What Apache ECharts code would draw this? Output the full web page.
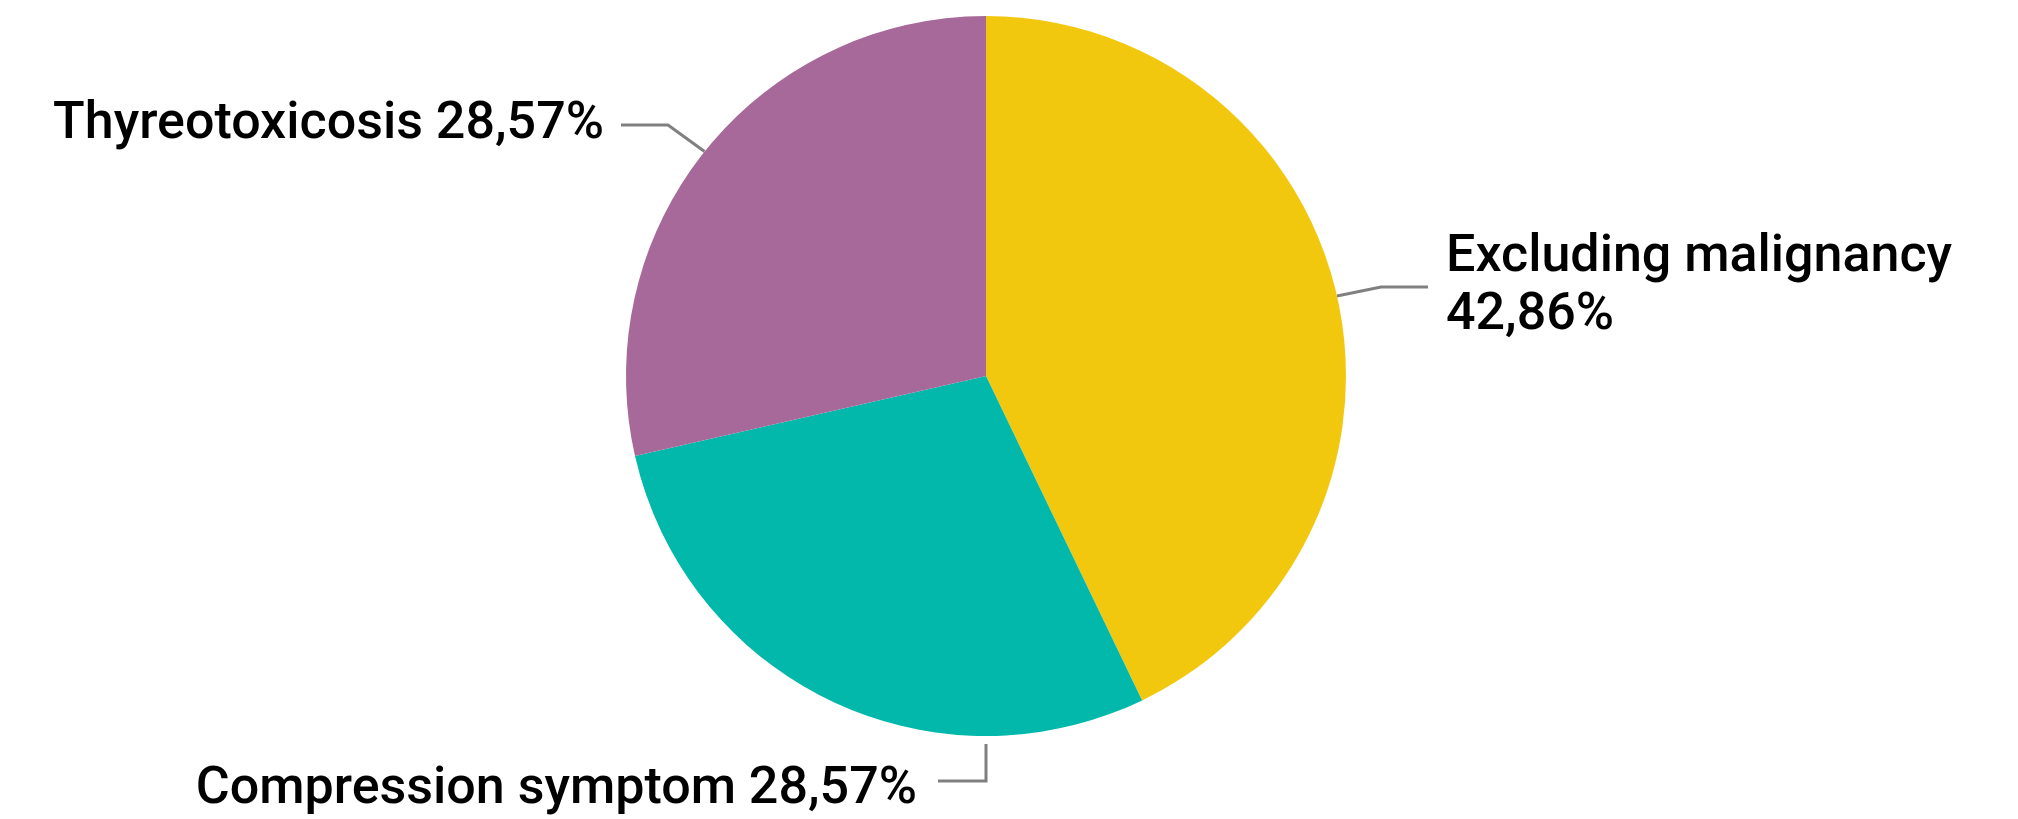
<!DOCTYPE html>
<html>
<head>
<meta charset="utf-8">
<script src="https://cdn.jsdelivr.net/npm/echarts@6/dist/echarts.min.js"></script>
<style>
  html, body { margin: 0; padding: 0; background: #fff; }
  #chart { width: 2018px; height: 819px; }
</style>
</head>
<body>
<div id="chart"></div>
<script>
// ---- data ----
const categories = ['Excluding malignancy', 'Compression symptom', 'Thyreotoxicosis'];
const values = [42.86, 28.57, 28.57];
const labelSeparators = ['\n', ' ', ' '];
const colors = ['#F2C80F', '#01B8AA', '#A66999'];

// ---- label placement (layout only) ----
const labelPlacement = [
  { x: 1428, y: 287, align: 'left', pad: [0, 0, 0, 18], line: true },
  { x: 938, y: 790, align: 'right', pad: [0, 21, 0, 0], line: false },
  { x: 621, y: 125, align: 'right', pad: [0, 17, 0, 0], line: true }
];
const lineColor = '#808080';
const lineWidth = 3;

const chart = echarts.init(document.getElementById('chart'), null, { renderer: 'canvas' });

const seriesData = categories.map((name, i) => ({
  name: name,
  value: values[i],
  itemStyle: { color: colors[i] },
  label: { padding: labelPlacement[i].pad },
  labelLine: { show: labelPlacement[i].line }
}));

chart.setOption({
  animation: false,
  backgroundColor: '#ffffff',
  series: [{
    type: 'pie',
    center: [986, 376],
    radius: [0, 360],
    startAngle: 90,
    clockwise: true,
    avoidLabelOverlap: false,
    data: seriesData,
    label: {
      show: true,
      position: 'outside',
      fontFamily: 'Roboto',
      fontWeight: 500,
      fontSize: 52,
      lineHeight: 58,
      color: '#000000',
      formatter: function (p) {
        return p.name + labelSeparators[p.dataIndex] + p.value.toFixed(2).replace('.', ',') + '%';
      }
    },
    labelLine: {
      show: true,
      length: 40,
      length2: 47,
      minTurnAngle: 80,
      lineStyle: { color: lineColor, width: lineWidth }
    },
    labelLayout: function (params) {
      const p = labelPlacement[params.dataIndex];
      return { x: p.x, y: p.y, align: p.align, verticalAlign: 'middle' };
    },
    emphasis: { disabled: true }
  }]
});

// Leader line for the bottom slice: anchored at the slice's lowest point
// (taken from the library's own pie layout), then bent to the label.
const layout = chart.getModel().getSeriesByIndex(0).getData().getItemLayout(1);
const lp = labelPlacement[1];
chart.setOption({
  graphic: [{
    type: 'polyline',
    silent: true,
    shape: {
      points: [
        [layout.cx, layout.cy + layout.r + 8],
        [layout.cx, lp.y - 9],
        [lp.x, lp.y - 9]
      ]
    },
    style: { stroke: lineColor, lineWidth: lineWidth, fill: null }
  }]
});
</script>
</body>
</html>
